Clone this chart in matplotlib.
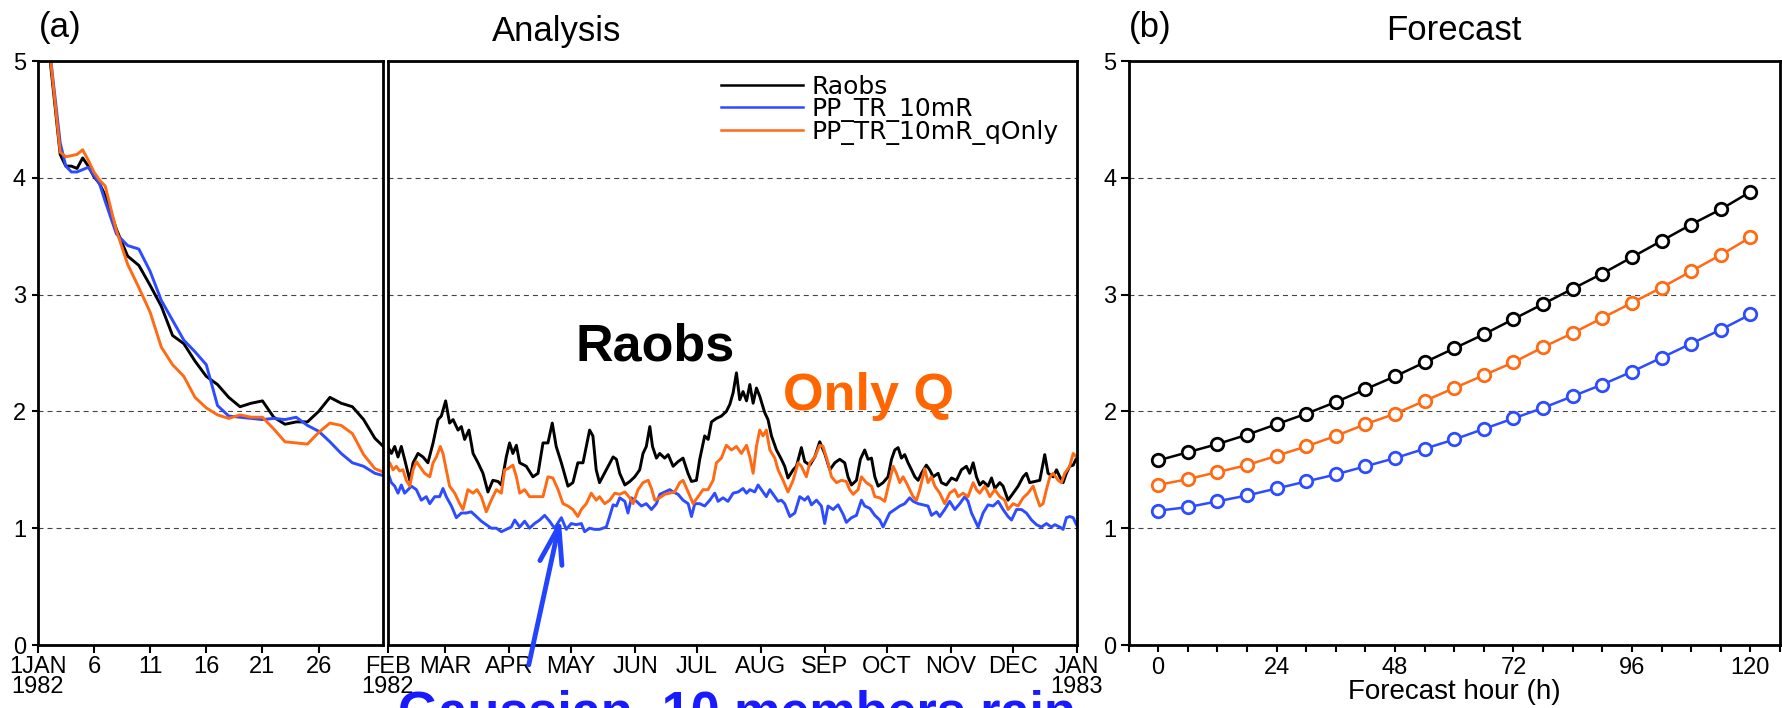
import numpy as np
import matplotlib
matplotlib.use('Agg')
import matplotlib.pyplot as plt
from matplotlib import font_manager as fm

# ---------------- data ----------------
# (a) January 1982, days since 1 Jan 00Z
jan_days = [0, 1, 2, 2.5, 3, 3.5, 4, 4.5, 5, 5.5, 6, 7, 8, 9, 10, 11, 12, 13, 14, 15,
            16, 17, 18, 19, 20, 21, 22, 23, 24, 25, 26, 27, 28, 29, 30, 30.75]
jan_raobs = [6.0, 5.1, 4.2, 4.1, 4.1, 4.08, 4.17, 4.1, 4.01, 3.95, 3.85, 3.56, 3.33, 3.25,
             3.08, 2.9, 2.65, 2.58, 2.43, 2.30, 2.23, 2.12, 2.04, 2.07, 2.09, 1.95, 1.89,
             1.91, 1.91, 2.0, 2.12, 2.07, 2.04, 1.93, 1.77, 1.70]
jan_pp = [6.0, 5.15, 4.3, 4.1, 4.05, 4.05, 4.07, 4.09, 4.02, 3.95, 3.8, 3.52, 3.42, 3.39,
          3.2, 2.95, 2.78, 2.61, 2.51, 2.4, 2.05, 1.96, 1.95, 1.94, 1.93, 1.94, 1.93, 1.95,
          1.88, 1.83, 1.74, 1.64, 1.56, 1.53, 1.47, 1.45]
jan_q = [6.0, 5.15, 4.22, 4.18, 4.19, 4.2, 4.24, 4.15, 4.05, 3.98, 3.93, 3.55, 3.26, 3.06,
         2.85, 2.55, 2.4, 2.3, 2.12, 2.03, 1.97, 1.94, 1.97, 1.95, 1.95, 1.85, 1.74, 1.73,
         1.72, 1.82, 1.9, 1.88, 1.81, 1.63, 1.51, 1.48]

# Feb 1982 - Jan 1983, days since 1 Feb 00Z
raobs_days = [0, 1.8, 3.4, 5, 6.6, 8.2, 10.7, 12.3, 14.7, 17.1, 19.5, 22, 24.4, 26, 28.1, 30,
              31.7, 34.1, 35.7, 37.3, 39.4, 41.4, 43.8, 46.2, 48.6, 51, 53.5, 55.1, 57.5,
              59.1, 60.7, 62.4, 64, 67.2, 70.4, 72.9, 75.3, 77.7, 79.8, 81.7, 84.2, 87.4,
              89.8, 92.2, 94.7, 97.9, 99.5, 101.1, 102.7, 106, 109.3, 110.9, 112.5, 115,
              117.4, 119.8, 122.2, 123.8, 125.4, 127.1, 128.4, 130.3, 131.9, 134.3, 136,
              138.4, 140.8, 143.2, 145.6, 147.3, 149.7, 151.3, 153.7, 155.4, 157, 159.4,
              161.8, 164.2, 165.9, 167.5, 169.1, 170.7, 172.3, 174, 175.6, 177.2, 178.8,
              180.4, 182.8, 184.4, 186.1, 188.5, 190.9, 192.5, 194.1, 196.6, 198.2, 200.6,
              202.2, 204.7, 207.1, 209.5, 211.9, 214.4, 216.8, 219.2, 221.6, 223.2, 224.9,
              227.3, 229.2, 231.3, 232.9, 234.6, 236.2, 237.8, 240.2, 242.6, 244.3, 245.9,
              247.5, 249.1, 250.7, 252.3, 254, 255.6, 257.2, 258.8, 261.2, 262.8, 264.5,
              266.9, 268.5, 270.9, 273.4, 275.8, 278.2, 280.6, 282.2, 283.9, 285.5, 287.1,
              288.7, 291.1, 292.8, 294.4, 296.8, 298.4, 300.8, 303.3, 305.7, 308.1, 309.7,
              311.3, 313.8, 316.2, 318.6, 320.2, 322.7, 324.3, 325.9, 327.5, 329.1, 330.7,
              332.4, 334]
raobs_vals = [1.70, 1.64, 1.7, 1.61, 1.7, 1.59, 1.41, 1.56, 1.64, 1.61, 1.56, 1.73, 1.93,
              1.96, 2.09, 1.9, 1.93, 1.84, 1.87, 1.76, 1.84, 1.64, 1.56, 1.47, 1.31, 1.41,
              1.4, 1.37, 1.61, 1.73, 1.64, 1.71, 1.56, 1.53, 1.44, 1.47, 1.73, 1.73, 1.9,
              1.7, 1.56, 1.36, 1.39, 1.56, 1.56, 1.84, 1.79, 1.5, 1.39, 1.5, 1.61, 1.59,
              1.47, 1.37, 1.4, 1.44, 1.5, 1.64, 1.7, 1.87, 1.7, 1.6, 1.64, 1.6, 1.63, 1.53,
              1.57, 1.6, 1.47, 1.4, 1.41, 1.59, 1.79, 1.76, 1.91, 1.94, 1.96, 2.0, 2.06,
              2.16, 2.33, 2.1, 2.17, 2.09, 2.23, 2.07, 2.2, 2.13, 1.99, 1.93, 1.79, 1.67,
              1.59, 1.53, 1.43, 1.5, 1.53, 1.69, 1.57, 1.54, 1.61, 1.74, 1.64, 1.5, 1.56,
              1.59, 1.56, 1.44, 1.37, 1.41, 1.59, 1.67, 1.59, 1.6, 1.44, 1.36, 1.39, 1.44,
              1.59, 1.67, 1.69, 1.6, 1.63, 1.56, 1.5, 1.44, 1.41, 1.47, 1.54, 1.5, 1.44,
              1.47, 1.39, 1.37, 1.43, 1.41, 1.5, 1.53, 1.47, 1.56, 1.44, 1.37, 1.4, 1.36,
              1.43, 1.34, 1.39, 1.36, 1.24, 1.3, 1.36, 1.44, 1.47, 1.39, 1.4, 1.41, 1.63,
              1.47, 1.44, 1.5, 1.44, 1.39, 1.47, 1.53, 1.54, 1.6]

q_days = [0, 1, 2.6, 4.2, 5.8, 7.4, 9, 10.7, 12.3, 13.9, 15.5, 17.9, 20.4, 22, 23.6, 25.5,
          26.8, 28.4, 30, 32.5, 34.9, 36.5, 38.9, 41.4, 43.3, 45.4, 47.8, 50.2, 52.7, 55.1,
          56.7, 58.3, 60.7, 62.4, 64, 66.4, 68.8, 72.1, 75.3, 77.7, 80.1, 82.6, 85, 87.4,
          89.8, 92.2, 93.9, 96.3, 98.7, 101.1, 102.7, 105.2, 107.7, 110.1, 112.5, 115,
          117.4, 119, 121.4, 123.8, 126.3, 127.9, 129.5, 131.9, 134.3, 136.8, 139.2, 141.6,
          143.2, 145.7, 148.1, 150.5, 152.9, 155.3, 157.8, 159.4, 161.8, 164.2, 166.7,
          169.1, 171.5, 174, 175.6, 177.2, 178.8, 180.4, 182, 183.6, 185.3, 187.7, 189.3,
          191.7, 194.1, 196.6, 199, 200.6, 203, 204.7, 207.1, 209.5, 211.1, 213.5, 215.2,
          217.6, 220, 222.4, 224, 225.7, 228.1, 229.7, 232.1, 234.6, 236.2, 238.6, 241,
          243.4, 245.1, 246.7, 248.3, 249.9, 251.5, 253.1, 254.8, 256.4, 258, 260.4, 262,
          263.7, 265.3, 267.7, 270.1, 272.5, 275, 276.6, 279, 281.4, 283.9, 285.5, 287.1,
          289.5, 292, 294.4, 296.8, 299.2, 300.8, 303.3, 305.7, 308.1, 310.5, 313, 314.6,
          316.2, 317.8, 319.4, 321.1, 322.7, 325.1, 326.7, 328.3, 330.7, 332.4, 334]
q_vals = [1.52, 1.56, 1.5, 1.53, 1.49, 1.5, 1.41, 1.36, 1.5, 1.57, 1.53, 1.47, 1.44, 1.56,
          1.61, 1.7, 1.64, 1.5, 1.36, 1.3, 1.21, 1.16, 1.33, 1.3, 1.33, 1.27, 1.14, 1.24,
          1.33, 1.3, 1.5, 1.51, 1.54, 1.44, 1.3, 1.33, 1.27, 1.27, 1.27, 1.44, 1.43, 1.33,
          1.21, 1.19, 1.16, 1.1, 1.16, 1.21, 1.3, 1.24, 1.27, 1.21, 1.24, 1.3, 1.29, 1.31,
          1.26, 1.21, 1.33, 1.39, 1.41, 1.34, 1.24, 1.26, 1.29, 1.3, 1.31, 1.39, 1.41, 1.31,
          1.21, 1.27, 1.33, 1.33, 1.41, 1.56, 1.6, 1.71, 1.67, 1.7, 1.64, 1.71, 1.61, 1.47,
          1.7, 1.84, 1.79, 1.84, 1.67, 1.6, 1.5, 1.41, 1.31, 1.41, 1.56, 1.53, 1.44, 1.56,
          1.61, 1.71, 1.7, 1.56, 1.44, 1.39, 1.41, 1.4, 1.33, 1.29, 1.33, 1.44, 1.39, 1.36,
          1.27, 1.26, 1.23, 1.41, 1.53, 1.47, 1.39, 1.44, 1.39, 1.33, 1.27, 1.24, 1.33,
          1.51, 1.39, 1.44, 1.36, 1.3, 1.21, 1.3, 1.33, 1.27, 1.3, 1.27, 1.39, 1.33, 1.3,
          1.36, 1.27, 1.33, 1.27, 1.24, 1.16, 1.21, 1.19, 1.26, 1.3, 1.36, 1.27, 1.19, 1.21,
          1.33, 1.44, 1.47, 1.41, 1.39, 1.47, 1.53, 1.64, 1.61]

pp_days = [0, 1.8, 3.4, 5, 6.6, 8.2, 9.9, 11.5, 13.9, 16.3, 18.7, 20.4, 22.8, 25.2, 26.8,
           28.4, 30.9, 33.3, 35.7, 38.1, 40.5, 43, 45.4, 47.8, 50.2, 52.7, 55.1, 57.5, 59.9,
           61.6, 64, 66.4, 68.8, 71.2, 73.7, 76.1, 78.5, 80.9, 84.2, 86.6, 89, 91.4, 93.9,
           95.5, 97.9, 100.3, 102.7, 106, 107.6, 109.3, 110.9, 112.5, 115, 116.5, 118.2,
           120.6, 123, 125.4, 127.9, 130.3, 131.9, 134.3, 136.8, 138.4, 140.8, 143.2, 145.7,
           147.3, 148.9, 151.3, 153.7, 156.2, 158.6, 160.2, 162.6, 165, 167.5, 169.9, 172.3,
           174, 175.6, 178, 179.6, 181.2, 183.6, 185.3, 187.7, 189.3, 190.9, 192.5, 195,
           197.4, 199.8, 202.2, 203.8, 205.5, 207.9, 210.3, 211.9, 213.5, 216, 218.4, 220.8,
           222.4, 224.9, 227.3, 229.7, 231.3, 233.8, 236.2, 238.6, 240.2, 241.8, 243.4,
           245.9, 248.3, 250.7, 253.1, 254.8, 257.2, 259.6, 262, 263.7, 266.1, 267.7, 270.1,
           272.5, 275, 277.4, 279.8, 281.4, 283.1, 284.7, 286.3, 288.7, 291.1, 293.6, 296,
           298.4, 300.8, 302.5, 304.9, 307.3, 309.7, 312.2, 314.6, 317, 319.4, 321.8, 323.5,
           325.9, 327.5, 329.1, 330.7, 332.4, 334]
pp_vals = [1.48, 1.39, 1.36, 1.3, 1.37, 1.3, 1.33, 1.36, 1.33, 1.24, 1.27, 1.21, 1.27, 1.27,
           1.34, 1.27, 1.19, 1.09, 1.13, 1.13, 1.14, 1.1, 1.06, 1.03, 1.0, 1.0, 0.97, 0.99,
           1.01, 1.07, 1.01, 1.06, 1.0, 1.04, 1.07, 1.11, 1.06, 1.0, 1.09, 0.99, 1.04, 1.03,
           1.04, 0.97, 1.0, 0.99, 0.99, 1.01, 1.1, 1.2, 1.19, 1.26, 1.23, 1.13, 1.26, 1.23,
           1.19, 1.21, 1.16, 1.21, 1.29, 1.31, 1.33, 1.31, 1.29, 1.24, 1.21, 1.1, 1.21, 1.21,
           1.19, 1.24, 1.3, 1.23, 1.26, 1.23, 1.3, 1.31, 1.34, 1.3, 1.33, 1.31, 1.37, 1.33,
           1.27, 1.33, 1.27, 1.23, 1.24, 1.21, 1.1, 1.13, 1.27, 1.24, 1.27, 1.2, 1.24, 1.19,
           1.04, 1.19, 1.16, 1.2, 1.12, 1.05, 1.09, 1.11, 1.24, 1.19, 1.17, 1.11, 1.07, 1.01,
           1.07, 1.13, 1.16, 1.19, 1.21, 1.26, 1.23, 1.21, 1.2, 1.19, 1.11, 1.14, 1.1, 1.16,
           1.23, 1.16, 1.21, 1.27, 1.23, 1.13, 1.07, 1.01, 1.13, 1.2, 1.19, 1.23, 1.16, 1.1,
           1.07, 1.16, 1.16, 1.13, 1.07, 1.03, 1.01, 1.04, 1.01, 1.03, 1.01, 0.99, 1.09,
           1.1, 1.09, 1.03]

month_days = [0, 28, 59, 89, 120, 150, 181, 212, 242, 273, 303, 334]
month_labels = ['FEB\n1982', 'MAR', 'APR', 'MAY', 'JUN', 'JUL', 'AUG', 'SEP', 'OCT',
                'NOV', 'DEC', 'JAN\n1983']
jan_ticks = [0, 5, 10, 15, 20, 25]
jan_labels = ['1JAN\n1982', '6', '11', '16', '21', '26']

# (b) forecast
fc_hours = [0, 6, 12, 18, 24, 30, 36, 42, 48, 54, 60, 66, 72, 78, 84, 90, 96, 102, 108, 114, 120]
fc_raobs = [1.58, 1.65, 1.72, 1.80, 1.89, 1.98, 2.08, 2.19, 2.30, 2.42, 2.54, 2.66, 2.79,
            2.92, 3.05, 3.18, 3.32, 3.46, 3.60, 3.73, 3.88]
fc_q = [1.37, 1.42, 1.48, 1.54, 1.62, 1.70, 1.79, 1.89, 1.98, 2.09, 2.20, 2.31, 2.42, 2.55,
        2.67, 2.80, 2.93, 3.06, 3.20, 3.34, 3.49]
fc_pp = [1.15, 1.18, 1.23, 1.28, 1.34, 1.40, 1.46, 1.53, 1.60, 1.68, 1.76, 1.85, 1.94, 2.03,
         2.13, 2.23, 2.34, 2.46, 2.58, 2.70, 2.83]

series_names = ['Raobs', 'PP_TR_10mR', 'PP_TR_10mR_qOnly']
C_BLACK, C_BLUE, C_ORANGE = '#000000', '#2d4bff', '#ff6a14'

# ---------------- figure ----------------
names = {f.name for f in fm.fontManager.ttflist}
SANS = 'Liberation Sans'
NARROW = 'Liberation Sans Narrow' if 'Liberation Sans Narrow' in names else SANS
plt.rcParams['font.family'] = [SANS, 'DejaVu Sans']
plt.rcParams['lines.scale_dashes'] = False

W, H = 1782, 708
fig = plt.figure(figsize=(W / 100, H / 100), dpi=100)


def rect(x0, y0, x1, y1):
    return [x0 / W, 1 - y1 / H, (x1 - x0) / W, (y1 - y0) / H]


ax_a = fig.add_axes(rect(37.7, 61, 383.3, 645))
ax_m = fig.add_axes(rect(387.7, 61, 1076.5, 645))
ax_b = fig.add_axes(rect(1128.5, 61, 1780, 645))

TS = 17
for ax in (ax_a, ax_m, ax_b):
    for s in ax.spines.values():
        s.set_linewidth(2.0)
    ax.set_ylim(0, 5)
    ax.set_yticks([0, 1, 2, 3, 4, 5])
    ax.grid(axis='y', color='#444444', lw=0.8, ls=(0, (3.6, 2.9)))
    ax.set_axisbelow(True)
    ax.tick_params(axis='both', direction='out', width=1.5, labelsize=TS, colors='black')

ax_a.tick_params(axis='y', length=4.5, pad=4)
ax_a.tick_params(axis='x', length=5.5, pad=2.5)
ax_m.tick_params(axis='y', left=False, labelleft=False)
ax_m.tick_params(axis='x', length=5.5, pad=2.5)
ax_b.tick_params(axis='y', length=6, pad=2.5)
ax_b.tick_params(axis='x', length=5, pad=3.5)

lw = 2.1
ax_a.plot(jan_days, jan_raobs, color=C_BLACK, lw=lw)
ax_a.plot(jan_days, jan_pp, color=C_BLUE, lw=lw)
ax_a.plot(jan_days, jan_q, color=C_ORANGE, lw=lw)
ax_a.set_xlim(0, 30.75)
ax_a.set_xticks(jan_ticks)
ax_a.set_xticklabels(jan_labels, linespacing=0.9)

l1, = ax_m.plot(raobs_days, raobs_vals, color=C_BLACK, lw=lw, label=series_names[0])
l2, = ax_m.plot(pp_days, pp_vals, color=C_BLUE, lw=lw, label=series_names[1])
l3, = ax_m.plot(q_days, q_vals, color=C_ORANGE, lw=lw, label=series_names[2])
ax_m.set_xlim(0, 334)
ax_m.set_xticks(month_days)
ax_m.set_xticklabels(month_labels, linespacing=0.9, family=[NARROW, SANS])

leg = ax_m.legend(handles=[l1, l2, l3], loc='upper right', bbox_to_anchor=(0.982, 0.985),
                  frameon=False, prop={'family': 'DejaVu Sans', 'size': 18},
                  handlelength=3.3, handletextpad=0.35, labelspacing=-0.08, borderaxespad=0,
                  borderpad=0.2)
for h in leg.legend_handles:
    h.set_linewidth(1.8)

mk = dict(marker='o', markersize=9, markerfacecolor='white', markeredgewidth=2.0, lw=1.8)
ax_b.plot(fc_hours, fc_raobs, color=C_BLACK, **mk)
ax_b.plot(fc_hours, fc_q, color=C_ORANGE, **mk)
ax_b.plot(fc_hours, fc_pp, color=C_BLUE, **mk)
ax_b.set_xlim(-6, 126)
ax_b.set_xticks(np.arange(-6, 127, 6))
ax_b.set_xticklabels([str(h) if h % 24 == 0 and h >= 0 else '' for h in np.arange(-6, 127, 6)])
ax_b.set_xlabel('Forecast hour (h)', fontsize=20, labelpad=0)

# titles and panel letters
fig.text((37.7 + 1076.5) / 2 / W, 1 - 31 / H, 'Analysis', ha='center', va='center', fontsize=25)
fig.text((1128.5 + 1780) / 2 / W, 1 - 31 / H, 'Forecast', ha='center', va='center', fontsize=25)
fig.text(39 / W, 1 - 28 / H, '(a)', ha='left', va='center', fontsize=25)
fig.text(1129 / W, 1 - 28 / H, '(b)', ha='left', va='center', fontsize=25)

# annotations
ax_m.text(129.5, 2.44, 'Raobs', ha='center', va='baseline', fontsize=37.5,
          fontweight='bold', color='black')
ax_m.text(191.6, 2.01, 'Only Q', ha='left', va='baseline', fontsize=37.5,
          fontweight='bold', color='#ff6600')
ax_m.annotate('', xy=(83.9, 1.087), xytext=(68.4, -0.17), annotation_clip=False,
              arrowprops=dict(arrowstyle='->,head_length=1.0,head_width=0.3', lw=3.5,
                              color='#2244ff', shrinkA=0, shrinkB=0, mutation_scale=27))
fig.text(398.5 / W, -0.0277, 'Gaussian, 10 members rain', ha='left', va='baseline',
         fontsize=37.5, fontweight='bold', color='#1a1aff')

fig.savefig('out.png', dpi=100)
